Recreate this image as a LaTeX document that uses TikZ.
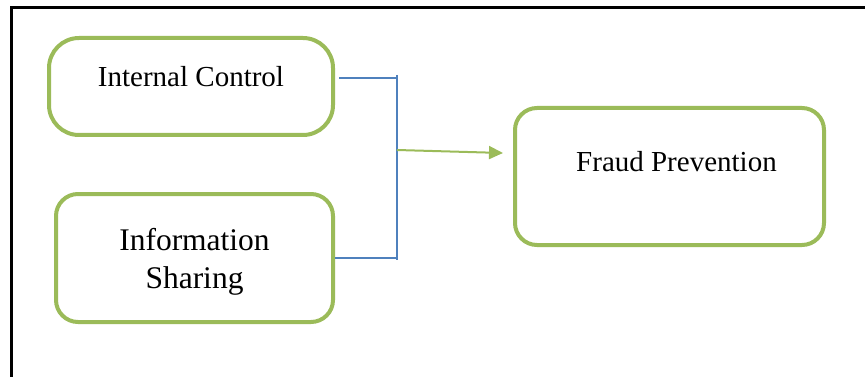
\documentclass[tikz,border=0pt]{standalone}
\usepackage{fontspec}
\setmainfont{Liberation Serif}
\usetikzlibrary{arrows.meta}
\definecolor{boxgreen}{HTML}{9BBB59}
\definecolor{linkblue}{HTML}{4F81BD}

\begin{document}
\begin{tikzpicture}[
        x=1pt, y=-1pt,
        box/.style={draw=boxgreen, line width=4pt, align=center, inner sep=0pt},
        link/.style={draw=linkblue, line width=1.5pt},
        every node/.style={font=\fontsize{29}{35}\selectfont}
    ]
    \useasboundingbox (0,0) rectangle (865,377);
    \draw[line width=3pt] (11,377) -- (11,8) -- (865,8);

    \node[box, rounded corners=30pt, minimum width=284pt, minimum height=97pt,
        text height=21pt, text depth=21pt] (control) at (191,86.5) {Internal Control};
    \node[box, rounded corners=22pt, minimum width=277pt, minimum height=128pt,
        font=\fontsize{31.5}{38}\selectfont, text height=67pt] (sharing) at (194.5,258) {Information\\Sharing};
    \node[box, rounded corners=22pt, minimum width=309pt, minimum height=137pt,
        text height=21pt, text depth=31pt] (fraud) at (669.5,176.5) {\hspace{14pt}Fraud Prevention};

    \coordinate (bartop) at (397,75);
    \coordinate (barbot) at (397,260);
    \coordinate (join) at (397,150);
    \coordinate (tip) at (503,153);
    \coordinate (ctlout) at ([shift={(4,-8.5)}]control.east);

    \draw[link] (ctlout) -- (ctlout -| bartop);
    \draw[link] (sharing.east) -- (sharing.east -| barbot);
    \draw[link] (bartop) -- (barbot);
    \draw[-{Triangle[length=14pt,width=13pt]}, draw=boxgreen, fill=boxgreen, line width=2pt]
        (join) -- (tip);
\end{tikzpicture}
\end{document}
